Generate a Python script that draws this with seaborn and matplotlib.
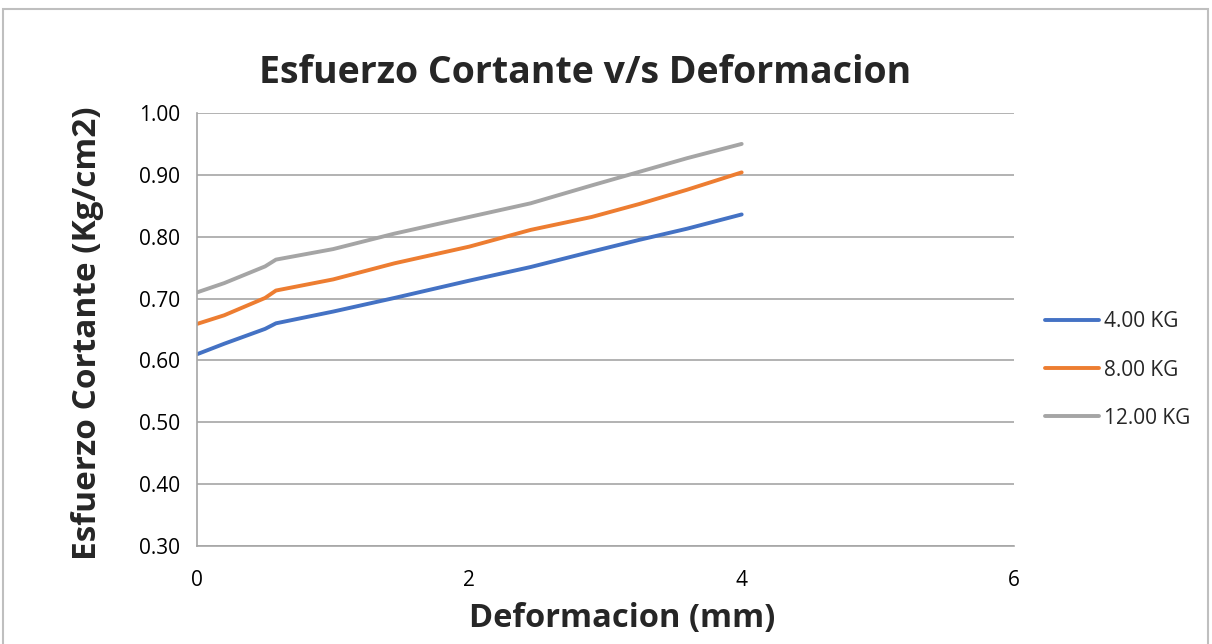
#!/usr/bin/env python3
"""
Esfuerzo cortante vs deformacion, three normal loads.
"""

import pandas as pd
import matplotlib.pyplot as plt
import seaborn as sns
from matplotlib.patches import Rectangle

# Data
deformacion = [0, 0.2, 0.5, 0.58, 1.0, 1.45, 2.0, 2.45, 2.9, 3.25, 3.6, 4.0]
carga_4kg = [0.610, 0.627, 0.651, 0.660, 0.679, 0.701, 0.729, 0.751, 0.776, 0.795, 0.813, 0.836]
carga_8kg = [0.659, 0.673, 0.701, 0.713, 0.731, 0.757, 0.784, 0.811, 0.832, 0.853, 0.876, 0.904]
carga_12kg = [0.710, 0.725, 0.752, 0.763, 0.780, 0.805, 0.832, 0.854, 0.883, 0.905, 0.927, 0.950]
series_names = ["4.00 KG", "8.00 KG", "12.00 KG"]
colors = ["#4472C4", "#ED7D31", "#A5A5A5"]
y_ticks = [0.30, 0.40, 0.50, 0.60, 0.70, 0.80, 0.90, 1.00]
x_ticks = [0, 2, 4, 6]

sns.set_style("white")
plt.rcParams["font.family"] = ["Open Sans", "DejaVu Sans"]

# long-form table for seaborn
frames = []
for name, vals in zip(series_names, [carga_4kg, carga_8kg, carga_12kg]):
    frames.append(pd.DataFrame({"x": deformacion, "y": vals, "serie": name}))
df = pd.concat(frames, ignore_index=True)

fig = plt.figure(figsize=(12.12, 6.44), dpi=100)
ax = fig.add_axes([197 / 1212, 1 - 546 / 644, (1014 - 197) / 1212, (546 - 113) / 644])

sns.lineplot(data=df, x="x", y="y", hue="serie", hue_order=series_names,
             palette=colors, linewidth=2.8, ax=ax, sort=False, legend=True)

ax.set_xlim(0, 6)
ax.set_ylim(0.30, 1.00)
ax.set_xticks(x_ticks)
ax.set_yticks(y_ticks)
ax.set_yticklabels([f"{v:.2f}" for v in y_ticks])
ax.yaxis.grid(True, color="#A6A6A6", linewidth=1.2)
ax.xaxis.grid(False)
for side in ["top", "right"]:
    ax.spines[side].set_visible(False)
for side in ["left", "bottom"]:
    ax.spines[side].set_color("#A6A6A6")
    ax.spines[side].set_linewidth(1.2)
ax.tick_params(axis="both", direction="out", length=5, width=1.2,
               color="#A6A6A6", labelsize=15, labelcolor="#000000")
ax.tick_params(axis="x", pad=12)
ax.tick_params(axis="y", pad=7)
ax.set_xlabel("")
ax.set_ylabel("")

# titles placed like the reference
fig.text(585 / 1212, 1 - 73 / 644, "Esfuerzo Cortante v/s Deformacion",
         ha="center", va="center", fontsize=27, fontweight="bold")
fig.text(88 / 1212, 1 - 333 / 644, "Esfuerzo Cortante (Kg/cm2)",
         ha="center", va="center", rotation=90, fontsize=24, fontweight="bold")
fig.text(622 / 1212, 1 - 618 / 644, "Deformacion (mm)",
         ha="center", va="center", fontsize=23.5, fontweight="bold")

handles, labels = ax.get_legend_handles_labels()
ax.legend(handles, labels, loc="center left", bbox_to_anchor=(1026 / 1212, 1 - 370 / 644),
          bbox_transform=fig.transFigure, frameon=False, fontsize=15,
          handlelength=2.6, handletextpad=0.25, labelspacing=1.3)

# chart border
fig.patches.append(Rectangle((3 / 1212, -0.01), 1205 / 1212, 1 - 9 / 644 + 0.01,
                             transform=fig.transFigure, fill=False,
                             edgecolor="#BFBFBF", linewidth=1.5))

fig.savefig("out.png", dpi=100)
